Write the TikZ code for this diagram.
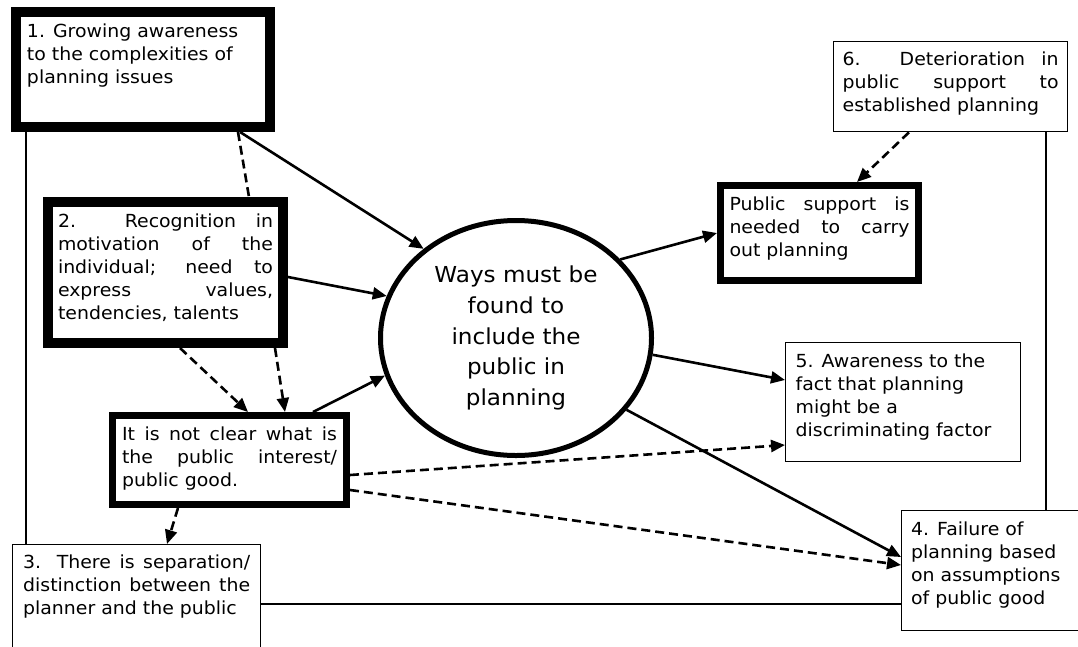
\documentclass[tikz,border=0pt]{standalone}
\usepackage{fontspec}
\setmainfont{DejaVu Sans}[FakeStretch=1.05]
\usetikzlibrary{arrows.meta,calc,shapes.geometric}

\newcommand{\boxtext}[3]{\parbox[c][#2][t]{#1}{\strut #3}}

\tikzset{
  thinbox/.style={draw, fill=white, line width=1.3pt, inner sep=0pt, anchor=north west},
  midbox/.style={draw, fill=white, line width=7pt, inner sep=0pt, anchor=north west},
  thickbox/.style={draw, fill=white, line width=10pt, inner sep=0pt, anchor=north west},
  link/.style={line width=2.6pt, -{Triangle[length=14pt,width=12pt]}},
  dashline/.style={line width=2.6pt, dash pattern=on 9pt off 5pt},
  dashlink/.style={link, dash pattern=on 9pt off 5pt},
  plainline/.style={line width=1.3pt},
}

\begin{document}
\begin{tikzpicture}[x=1pt, y=-1pt, font=\fontsize{18}{23}\selectfont]
  \useasboundingbox (0,0) rectangle (1078,646);
  \clip (0,0) rectangle (1078,646);

  % Boxes on the left
  \node[thickbox, minimum width=254pt, minimum height=115pt] (aware) at (11,7)
    {\boxtext{232pt}{97pt}{\raggedright 1. Growing awareness\\to the complexities of\\planning issues}};
  \node[thickbox, minimum width=235pt, minimum height=141pt] (recog) at (43,197)
    {\boxtext{215pt}{123pt}{2. Recognition in\linebreak motivation of the\linebreak individual; need to\linebreak express values,\linebreak tendencies, talents}};
  \node[midbox, minimum width=234pt, minimum height=89pt] (unclear) at (109,412)
    {\boxtext{215pt}{72pt}{It is not clear what is\linebreak the public interest/\linebreak public good.}};
  \node[thinbox, minimum width=248pt, minimum height=115pt] (separ) at (12,544)
    {\boxtext{227pt}{100pt}{3. There is separation/\linebreak distinction between the\linebreak planner and the public}};

  % Centre
  \node[ellipse, draw, fill=white, line width=5pt, minimum width=271pt, minimum height=235pt,
        inner sep=0pt, align=center, font=\fontsize{22}{30.7}\selectfont] (ways) at (516,338)
    {Ways must be\\found to\\include the\\public in\\planning};

  % Boxes on the right
  \node[thinbox, minimum width=234pt, minimum height=90pt] (deter) at (833,41)
    {\boxtext{216pt}{74pt}{6. Deterioration in\linebreak public support to\linebreak established planning}};
  \node[midbox, minimum width=198pt, minimum height=95pt] (support) at (717,182)
    {\boxtext{180pt}{78pt}{Public support is\linebreak needed to carry\linebreak out planning}};
  \node[thinbox, minimum width=235pt, minimum height=119pt] (aware5) at (785,342)
    {\boxtext{215pt}{101pt}{\raggedright 5. Awareness to the\\fact that planning\\might be a\\discriminating factor}};
  \node[thinbox, minimum width=177pt, minimum height=120pt] (fail) at (901,510)
    {\boxtext{158pt}{103pt}{\raggedright 4. Failure of\\planning based\\on assumptions\\of public good}};

  % Solid arrows
  \draw[link] ([xshift=229pt]aware.south west) -- (ways.136);
  \draw[link] ([yshift=-80pt]recog.north east) -- (ways.162);
  \draw[link] ([xshift=204pt]unclear.north west) -- (ways.196);
  \draw[link] (ways.37) -- ([yshift=-51pt]support.north west);
  \draw[link] (ways.-7) -- ([yshift=-38pt]aware5.north west);
  \draw[link] (ways.-33) -- ([yshift=-47pt]fail.north west);

  % Dashed arrows
  \draw[dashline] ([xshift=227pt]aware.south west) -- ([xshift=206pt]recog.north west);
  \draw[dashlink] ([xshift=137pt]recog.south west) -- ([xshift=139pt]unclear.north west);
  \draw[dashlink] ([xshift=232pt]recog.south west) -- ([xshift=176pt]unclear.north west);
  \draw[dashlink] ([xshift=69pt]unclear.south west) -- ([xshift=155pt]separ.north west);
  \draw[dashlink] ([yshift=-63pt]unclear.north east) -- ([yshift=-103pt]aware5.north west);
  \draw[dashlink] ([yshift=-78pt]unclear.north east) -- ([yshift=-55pt]fail.north west);
  \draw[dashlink] ([xshift=76pt]deter.south west) -- ([xshift=140pt]support.north west);

  % Thin links
  \draw[plainline] ([xshift=15pt]aware.south west) -- ([xshift=14pt]separ.north west);
  \draw[plainline] ([xshift=213pt]deter.south west) -- ([xshift=145pt]fail.north west);
  \draw[plainline] ([yshift=-60pt]separ.north east) -- ([yshift=-94pt]fail.north west);
\end{tikzpicture}
\end{document}
